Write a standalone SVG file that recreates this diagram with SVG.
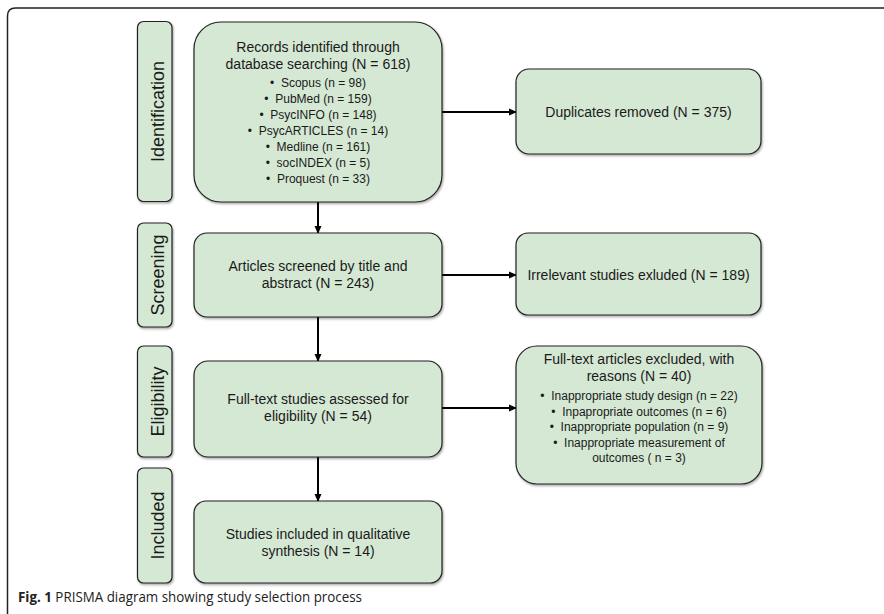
<svg xmlns="http://www.w3.org/2000/svg" width="884" height="614" viewBox="0 0 884 614">
  <style>
    .box { fill: #d5e8d4; stroke: #222; stroke-width: 1.2; filter: url(#sh); }
    .t { font-family: "Liberation Sans", Arial, sans-serif; font-size: 14px; fill: #1a1a1a; text-anchor: middle; }
    .b { font-family: "Liberation Sans", Arial, sans-serif; font-size: 12px; fill: #1a1a1a; text-anchor: middle; }
    .stage { font-family: "Liberation Sans", Arial, sans-serif; font-size: 18px; fill: #1a1a1a; text-anchor: middle; }
    .edge { stroke: #000; stroke-width: 2; fill: none; marker-end: url(#arr); }
    .cap { font-family: "Open Sans", "Noto Sans", sans-serif; font-size: 14px; fill: #222; }
  </style>
  <defs>
    <marker id="arr" markerWidth="8" markerHeight="8" refX="7" refY="4" orient="auto" markerUnits="userSpaceOnUse">
      <path d="M0,0.5 L8,4 L0,7.5 Z" fill="#000"/>
    </marker>
    <filter id="sh" x="-5%" y="-5%" width="112%" height="115%">
      <feDropShadow dx="1" dy="1.5" stdDeviation="0.8" flood-color="#000" flood-opacity="0.35"/>
    </filter>
  </defs>
  <rect width="884" height="614" fill="#fff"/>
  <path d="M7.5,614 L7.5,16 Q7.5,8 15.5,8 L884,8" fill="none" stroke="#222" stroke-width="1.5"/>

  <g id="stage-identification">
    <rect class="box" x="137.5" y="21.5" width="34.5" height="180" rx="6"/>
    <text class="stage" transform="translate(164,111.5) rotate(-90)">Identification</text>
  </g>
  <g id="stage-screening">
    <rect class="box" x="137.5" y="223" width="34.5" height="104" rx="6"/>
    <text class="stage" transform="translate(164,275) rotate(-90)">Screening</text>
  </g>
  <g id="stage-eligibility">
    <rect class="box" x="137.5" y="346" width="34.5" height="111" rx="6"/>
    <text class="stage" transform="translate(164,401.5) rotate(-90)">Eligibility</text>
  </g>
  <g id="stage-included">
    <rect class="box" x="137.5" y="468" width="34.5" height="115" rx="6"/>
    <text class="stage" transform="translate(164,525.5) rotate(-90)">Included</text>
  </g>

  <g id="connectors">
    <line class="edge" x1="318" y1="202" x2="318" y2="233"/>
    <line class="edge" x1="318" y1="317" x2="318" y2="361"/>
    <line class="edge" x1="318" y1="457" x2="318" y2="501"/>
    <line class="edge" x1="442" y1="112" x2="516" y2="112"/>
    <line class="edge" x1="442" y1="275" x2="516" y2="275"/>
    <line class="edge" x1="442" y1="408" x2="516" y2="408"/>
  </g>

  <g id="records">
    <rect class="box" x="194" y="22" width="248" height="180" rx="27"/>
    <text class="t" x="318" y="52">Records identified through</text>
    <text class="t" x="318" y="68.5">database searching (N = 618)</text>
    <text class="b" x="318" y="87">•&#160; Scopus (n = 98)</text>
    <text class="b" x="318" y="103">•&#160; PubMed (n = 159)</text>
    <text class="b" x="318" y="119">•&#160; PsycINFO (n = 148)</text>
    <text class="b" x="318" y="135">•&#160; PsycARTICLES (n = 14)</text>
    <text class="b" x="318" y="151">•&#160; Medline (n = 161)</text>
    <text class="b" x="318" y="167">•&#160; socINDEX (n = 5)</text>
    <text class="b" x="318" y="183">•&#160; Proquest (n = 33)</text>
  </g>
  <g id="duplicates">
    <rect class="box" x="516" y="69" width="245" height="85" rx="13"/>
    <text class="t" x="638.5" y="117">Duplicates removed (N = 375)</text>
  </g>
  <g id="screened">
    <rect class="box" x="194" y="233" width="248" height="84" rx="13"/>
    <text class="t" x="318" y="270.5">Articles screened by title and</text>
    <text class="t" x="318" y="287.5">abstract (N = 243)</text>
  </g>
  <g id="irrelevant">
    <rect class="box" x="516" y="233" width="245" height="82" rx="12"/>
    <text class="t" x="638.5" y="279.5">Irrelevant studies exluded (N = 189)</text>
  </g>
  <g id="fulltext">
    <rect class="box" x="194" y="361" width="248" height="96" rx="14"/>
    <text class="t" x="318" y="403.5">Full-text studies assessed for</text>
    <text class="t" x="318" y="420.5">eligibility (N = 54)</text>
  </g>
  <g id="excluded">
    <rect class="box" x="516" y="346" width="246" height="138" rx="21"/>
    <text class="t" x="639" y="364">Full-text articles excluded, with</text>
    <text class="t" x="639" y="381">reasons (N = 40)</text>
    <text class="b" x="639" y="400">•&#160; Inappropriate study design (n = 22)</text>
    <text class="b" x="639" y="415.5">•&#160; Inpapropriate outcomes (n = 6)</text>
    <text class="b" x="639" y="431">•&#160; Inappropriate population (n = 9)</text>
    <text class="b" x="639" y="446.5">•&#160; Inappropriate measurement of</text>
    <text class="b" x="639" y="462">outcomes ( n = 3)</text>
  </g>
  <g id="included">
    <rect class="box" x="194" y="501" width="248" height="82" rx="12"/>
    <text class="t" x="318" y="538.5">Studies included in qualitative</text>
    <text class="t" x="318" y="555.5">synthesis (N = 14)</text>
  </g>

  <text class="cap" x="18" y="602" textLength="344" lengthAdjust="spacingAndGlyphs"><tspan font-weight="bold">Fig. 1</tspan> PRISMA diagram showing study selection process</text>
</svg>
